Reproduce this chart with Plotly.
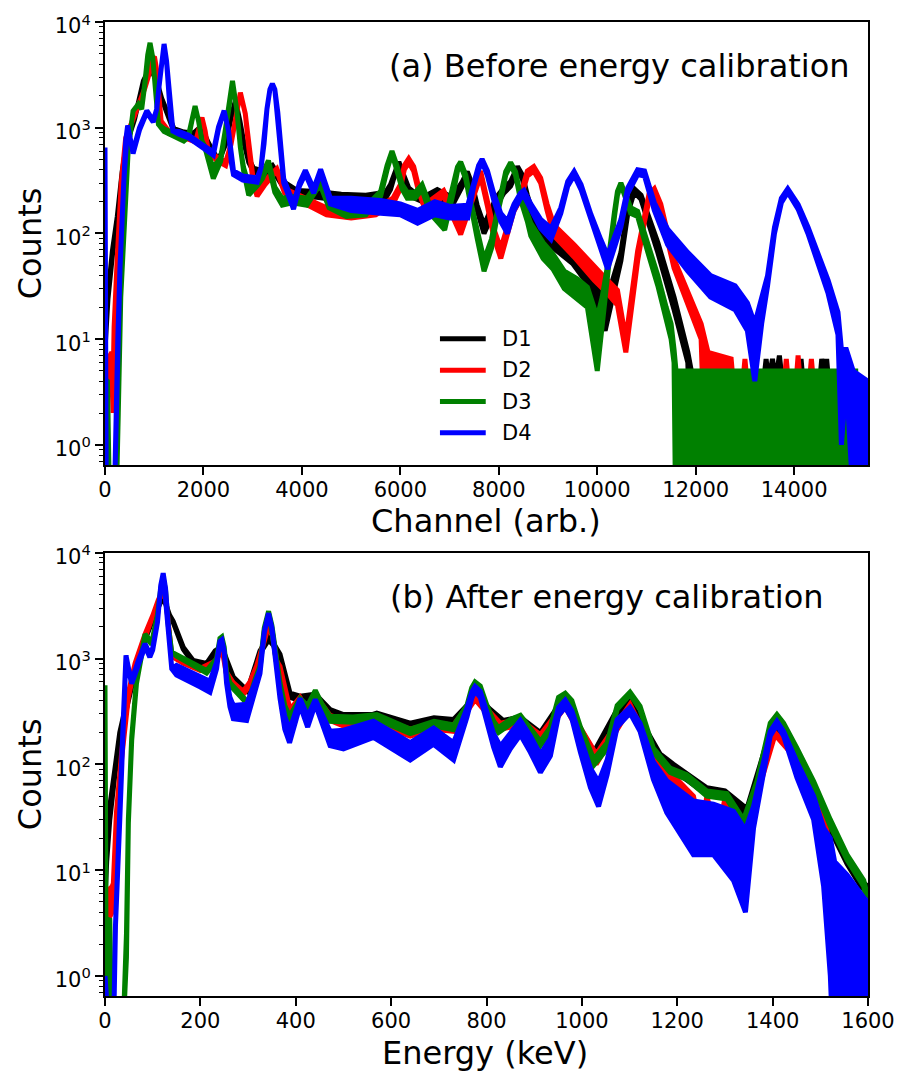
import plotly.graph_objects as go

# ---------------- (a) channel spectra: channel, lower / upper envelope of the noisy trace
ch_d1 = [0, 60, 150, 250, 350, 450, 600, 780, 915, 1050,
         1150, 1255, 1400, 1600, 1800, 1950, 2100, 2300, 2450, 2580,
         2650, 2740, 2815, 2920, 3015, 3200, 3400, 3600, 3900, 4300,
         4800, 5300, 5700, 5800, 5860, 5970, 6070, 6170, 6300, 6500,
         6750, 7050, 7260, 7360, 7460, 7560, 7700, 7950, 8100, 8240,
         8380, 8480, 8580, 8710, 8850, 9000, 9500, 9900, 10160, 10480,
         10620, 10750, 10890, 11020, 11230, 11560, 11840, 11950, 13380, 13430,
         13480, 13560, 13620, 13700, 13760, 14100, 14140, 14180, 14520, 14560,
         14620, 14660, 14700, 14850, 14900]
lo_d1 = [8, 24, 62, 135, 370, 730, 1200, 2770, 3700, 2770,
         1900, 1400, 920, 850, 830, 970, 680, 465, 700, 1360,
         1800, 1160, 750, 470, 385, 350, 400, 285, 225, 220,
         205, 200, 215, 260, 325, 440, 325, 245, 215, 195,
         222, 182, 280, 355, 260, 165, 100, 182, 240, 280,
         395, 325, 210, 125, 85, 80, 52, 29, 12, 55,
         155, 245, 210, 135, 66, 19, 6, 0.1, 0.1, 0.1,
         0.1, 0.1, 0.1, 0.1, 0.1, 0.1, 0.1, 0.1, 0.1, 0.1,
         0.1, 0.1, 0.1, 0.1, 0.1]
hi_d1 = [8, 26, 68, 145, 390, 770, 1200, 2770, 3700, 2770,
         1900, 1400, 980, 910, 890, 1030, 720, 495, 700, 1360,
         1800, 1160, 750, 510, 415, 390, 440, 315, 255, 250,
         235, 230, 245, 290, 355, 475, 355, 270, 240, 225,
         260, 220, 310, 385, 290, 185, 120, 220, 270, 310,
         430, 355, 230, 145, 100, 100, 70, 42, 21, 66,
         175, 265, 230, 150, 82, 25, 7.5, 4, 4, 6.5,
         4, 6.5, 4, 7, 4, 4, 6.5, 4, 4, 6.5,
         4, 6.5, 4, 4, 0.1]

ch_d2 = [40, 55, 100, 140, 165, 185, 250, 330, 420, 600,
         814, 915, 983, 1005, 1050, 1085, 1140, 1300, 1600, 1850,
         1900, 1970, 2035, 2100, 2300, 2450, 2560, 2650, 2750, 2850,
         2920, 3015, 3090, 3250, 3490, 3650, 3900, 4500, 5000, 5500,
         5850, 6000, 6080, 6170, 6270, 6375, 6510, 6880, 7225, 7490,
         7630, 7770, 7900, 8040, 8300, 8440, 8580, 8710, 8850, 8980,
         9120, 9530, 9940, 10210, 10410, 10580, 10820, 10960, 11050, 11160,
         11290, 11430, 11560, 11700, 12110, 12250, 12500, 12720, 12760, 12960,
         13000, 13040, 13800, 13840, 13880, 14040, 14080, 14120, 14310, 14350,
         14390, 14500]
lo_d2 = [0.3, 3, 5.5, 6, 2, 10, 55, 280, 780, 1300,
         2400, 3450, 4600, 4700, 3500, 2400, 1160, 880, 810, 730,
         900, 1250, 930, 570, 480, 440, 700, 1160, 2150, 1360,
         650, 295, 225, 290, 390, 240, 205, 150, 140, 150,
         190, 265, 400, 470, 390, 245, 165, 225, 98, 225,
         350, 180, 92, 58, 160, 210, 350, 390, 300, 165,
         95, 60, 36, 27, 21, 7.5, 55, 130, 205, 245,
         165, 85, 47, 32, 10, 0.1, 0.1, 0.1, 0.1, 0.1,
         0.1, 0.1, 0.1, 0.1, 0.1, 0.1, 0.1, 0.1, 0.1, 0.1,
         0.1, 0.1]
hi_d2 = [0.3, 6, 7, 7.5, 4, 13, 60, 300, 800, 1300,
         2400, 3450, 4600, 4700, 3500, 2400, 1160, 920, 850, 770,
         960, 1250, 930, 590, 520, 470, 700, 1160, 2150, 1360,
         650, 310, 255, 320, 410, 265, 235, 175, 165, 175,
         215, 290, 440, 510, 430, 270, 190, 255, 116, 255,
         390, 200, 110, 72, 180, 230, 390, 430, 335, 190,
         120, 78, 48, 36, 29, 10, 68, 155, 235, 265,
         190, 100, 57, 40, 14, 7.5, 7, 6.5, 4, 4,
         6.5, 4, 4, 6.5, 4, 4, 7, 4, 4, 6.5,
         4, 0.1]

ch_d3 = [0, 50, 90, 230, 270, 320, 370, 470, 570, 680,
         745, 814, 868, 915, 970, 1017, 1085, 1200, 1400, 1600,
         1700, 1765, 1830, 1900, 1970, 2050, 2200, 2350, 2420, 2510,
         2590, 2680, 2750, 2815, 2920, 3100, 3200, 3320, 3450, 3600,
         3800, 4100, 4300, 4390, 4550, 4900, 5300, 5600, 5730, 5830,
         5930, 6040, 6140, 6300, 6440, 6600, 6900, 7090, 7160, 7225,
         7330, 7430, 7560, 7700, 7850, 7970, 8040, 8140, 8240, 8340,
         8440, 8580, 8650, 8900, 9100, 9330, 9600, 9800, 10000, 10100,
         10210, 10350, 10410, 10480, 10550, 10680, 10820, 11020, 11230, 11400,
         11500, 11560, 11600, 15250, 15270]
lo_d3 = [2, 1.5, 0.3, 0.3, 2, 25, 86, 600, 1440, 1680,
         1500, 2770, 4900, 6350, 4600, 2400, 1080, 920, 820, 750,
         820, 1160, 1600, 1160, 750, 600, 330, 480, 800, 1440,
         2770, 1440, 650, 393, 230, 285, 330, 450, 245, 185,
         195, 185, 260, 275, 175, 145, 150, 225, 400, 570,
         400, 260, 215, 215, 260, 155, 108, 260, 390, 440,
         325, 180, 90, 44, 72, 150, 210, 355, 445, 355,
         210, 130, 95, 58, 46, 30, 24, 20, 5, 15,
         40, 145, 230, 290, 230, 155, 145, 68, 32, 16,
         10, 6, 0.1, 0.1, 0.1]
hi_d3 = [4.2, 4, 0.3, 0.3, 3, 30, 86, 600, 1440, 1680,
         1500, 2770, 4900, 6350, 4600, 2400, 1080, 980, 880, 800,
         860, 1160, 1600, 1160, 750, 640, 420, 520, 800, 1440,
         2770, 1440, 650, 420, 285, 320, 370, 490, 275, 215,
         225, 215, 290, 305, 205, 175, 180, 250, 440, 600,
         440, 290, 245, 245, 290, 185, 132, 290, 425, 475,
         355, 200, 106, 56, 88, 170, 230, 385, 470, 385,
         230, 155, 125, 82, 64, 44, 37, 31, 16, 25,
         50, 160, 250, 300, 250, 175, 162, 80, 40, 20,
         14, 8, 5, 5, 0.1]

ch_d4 = [0, 25, 190, 260, 305, 380, 420, 460, 510, 570,
         700, 850, 980, 1050, 1100, 1150, 1200, 1250, 1290, 1330,
         1380, 1500, 1700, 2000, 2200, 2306, 2420, 2510, 2570, 2610,
         2800, 3090, 3170, 3230, 3290, 3350, 3400, 3450, 3510, 3570,
         3630, 3830, 3950, 4070, 4240, 4380, 4480, 4580, 5000, 5600,
         6000, 6350, 6700, 7000, 7370, 7490, 7590, 7660, 7770, 7900,
         8040, 8175, 8310, 8440, 8510, 8650, 8850, 9060, 9260, 9400,
         9530, 9670, 9870, 10070, 10210, 10480, 10620, 10820, 10960, 11160,
         11430, 11840, 12300, 12800, 13050, 13200, 13340, 13460, 13600, 13740,
         13870, 14080, 14280, 14480, 14690, 14890, 14960, 15060, 15200, 15500]
lo_d4 = [650, 0.3, 0.3, 10, 48, 300, 750, 1050, 800, 570,
         950, 1400, 1130, 1500, 2500, 4300, 6200, 4300, 2500, 1300,
         930, 870, 800, 640, 550, 980, 1450, 930, 457, 360,
         320, 305, 420, 700, 1500, 2300, 2600, 2300, 1400, 650,
         300, 170, 280, 365, 240, 375, 270, 190, 165, 155,
         150, 125, 150, 140, 140, 280, 400, 475, 350, 205,
         130, 100, 165, 215, 225, 165, 112, 88, 155, 280,
         355, 260, 132, 72, 46, 115, 240, 360, 350, 165,
         78, 44, 25, 19, 12, 4, 14, 32, 100, 195,
         245, 170, 100, 55, 27, 11, 1, 4, 0.3, 0.1]
hi_d4 = [650, 0.3, 0.3, 10, 48, 300, 750, 1050, 800, 600,
         1000, 1450, 1170, 1500, 2500, 4300, 6200, 4300, 2500, 1300,
         930, 920, 850, 680, 590, 1020, 1450, 930, 470, 390,
         350, 335, 420, 700, 1500, 2300, 2600, 2300, 1400, 650,
         330, 190, 300, 395, 265, 405, 290, 215, 215, 205,
         190, 165, 200, 180, 185, 310, 440, 505, 390, 235,
         155, 130, 190, 240, 255, 190, 136, 112, 175, 310,
         385, 290, 152, 88, 62, 135, 270, 400, 390, 195,
         110, 66, 40, 32, 22, 14, 24, 40, 114, 215,
         265, 188, 115, 66, 36, 18, 8, 8, 5, 4]

# ---------------- (b) calibrated spectra: energy (keV), lower / upper envelope
ke_d1 = [0, 3.5, 10, 20, 31, 45, 59, 84, 105, 115,
         120, 127, 135, 143, 164, 185, 213, 231, 245, 256,
         269, 290, 300, 315, 325, 343, 355, 367, 388, 409,
         441, 472, 500, 560, 570, 640, 690, 731, 759, 776,
         808, 835, 870, 913, 951, 965, 997, 1025, 1074, 1101,
         1164, 1192, 1262, 1300, 1346, 1360, 1395, 1409, 1451, 1486,
         1521, 1556, 1585, 1600]
klo_d1 = [5, 12, 30, 75, 180, 340, 620, 1500, 2600, 3500,
          3700, 3300, 2600, 2200, 1230, 900, 840, 1100, 1250, 900,
          630, 500, 480, 800, 1120, 1500, 1300, 1040, 430, 400,
          420, 300, 265, 265, 275, 220, 245, 238, 330, 430,
          310, 240, 255, 180, 330, 370, 190, 110, 300, 370,
          110, 88, 52, 48, 30, 50, 190, 220, 125, 56,
          24, 11.5, 7, 6]
khi_d1 = [8, 15, 40, 85, 200, 380, 680, 1580, 2600, 3500,
          3700, 3300, 2600, 2250, 1280, 960, 900, 1180, 1300, 950,
          670, 540, 520, 850, 1180, 1580, 1350, 1100, 470, 440,
          460, 330, 295, 295, 305, 245, 275, 265, 360, 460,
          330, 260, 280, 200, 360, 400, 215, 130, 330, 395,
          125, 100, 60, 56, 38, 60, 205, 235, 135, 63,
          28, 13, 8, 7]

ke_d2 = [3, 7, 15, 17.5, 24, 35, 49, 63, 84, 101,
         112, 122, 128, 134, 140, 164, 200, 231, 245, 255,
         269, 290, 304, 318, 334, 343, 352, 360, 367, 388,
         409, 425, 441, 472, 500, 570, 640, 690, 731, 776,
         829, 871, 913, 965, 1030, 1101, 1150, 1185, 1234, 1250,
         1262, 1285, 1300, 1343, 1370, 1405, 1451, 1486, 1512, 1522,
         1530, 1540, 1548, 1555]
klo_d2 = [0.3, 3.4, 4, 7, 31, 115, 430, 840, 1620, 2600,
          3600, 4400, 3500, 1800, 1050, 900, 770, 900, 1250, 700,
          560, 460, 560, 800, 1500, 2050, 1600, 900, 800, 300,
          400, 290, 420, 260, 230, 240, 185, 215, 205, 410,
          215, 235, 165, 350, 100, 340, 110, 72, 42, 17,
          40, 15, 40, 22, 55, 190, 110, 48, 24, 7,
          2.5, 1.2, 0.1, 0.1]
khi_d2 = [0.3, 6.5, 7, 7.5, 35, 130, 470, 900, 1700, 2600,
          3600, 4400, 3500, 1800, 1050, 940, 810, 940, 1250, 740,
          590, 490, 600, 850, 1550, 2050, 1650, 950, 840, 330,
          430, 320, 450, 290, 265, 275, 215, 245, 235, 440,
          245, 265, 190, 385, 125, 370, 130, 84, 50, 22,
          50, 20, 48, 27, 70, 200, 125, 58, 30, 10,
          4, 2, 1, 0.1]

ke_d3 = [0, 2, 10, 14, 38, 45, 49, 56, 66, 84,
         98, 110, 117, 122, 127, 133, 140, 150, 213, 234,
         241, 245, 250, 255, 262, 290, 300, 315, 325, 334,
         343, 350, 359, 367, 377, 387, 409, 425, 441, 455,
         472, 520, 570, 640, 690, 731, 759, 769, 776, 787,
         801, 815, 825, 850, 871, 892, 913, 934, 951, 965,
         979, 997, 1025, 1053, 1074, 1101, 1122, 1150, 1185, 1220,
         1262, 1304, 1339, 1367, 1395, 1409, 1423, 1451, 1486, 1521,
         1556, 1591, 1600]
klo_d3 = [560, 0.3, 0.3, 0.3, 0.3, 1.5, 28, 170, 580, 1620,
          1360, 2600, 4600, 5800, 4400, 2000, 1150, 1050, 730, 950,
          1500, 1600, 1250, 700, 560, 410, 360, 600, 800, 1900,
          2800, 2000, 950, 560, 330, 255, 390, 330, 470, 340,
          255, 250, 265, 195, 230, 212, 330, 500, 560, 520,
          330, 230, 200, 240, 270, 200, 150, 200, 400, 440,
          370, 200, 98, 140, 330, 455, 330, 130, 84, 72,
          50, 47, 26, 63, 230, 285, 230, 130, 63, 26,
          12.5, 7, 4.5]
khi_d3 = [560, 3.2, 3.5, 0.3, 0.3, 2.5, 30, 180, 620, 1700,
          1420, 2600, 4600, 5800, 4400, 2000, 1150, 1090, 770, 1000,
          1550, 1600, 1280, 740, 590, 430, 385, 640, 850, 1950,
          2800, 2050, 1000, 590, 360, 285, 420, 360, 500, 370,
          285, 280, 295, 215, 255, 235, 360, 530, 600, 550,
          360, 255, 222, 265, 290, 220, 165, 225, 430, 470,
          400, 225, 112, 160, 360, 480, 355, 142, 92, 80,
          56, 53, 30, 69, 245, 295, 245, 142, 69, 30,
          14, 8, 5.5]

ke_d4 = [0, 8, 18, 22, 31, 38, 44, 50, 56, 70,
         84, 94, 100, 110, 117, 122, 127, 133, 140, 150,
         199, 220, 234, 241, 245, 250, 255, 262, 269, 297,
         315, 325, 334, 343, 350, 359, 367, 377, 387, 409,
         425, 441, 455, 472, 500, 563, 640, 689, 731, 759,
         769, 776, 787, 801, 815, 829, 850, 871, 892, 913,
         934, 951, 965, 979, 997, 1018, 1035, 1053, 1074, 1101,
         1122, 1150, 1178, 1234, 1276, 1318, 1343, 1360, 1381, 1395,
         1409, 1423, 1451, 1486, 1507, 1521, 1530, 1556, 1591, 1600]
klo_d4 = [1, 0.3, 0.3, 3, 28, 245, 1070, 750, 580, 880,
          1300, 1030, 1200, 2200, 4950, 6400, 4600, 1940, 800, 700,
          540, 480, 800, 1420, 1500, 1130, 580, 350, 270, 260,
          500, 720, 1750, 2670, 1900, 840, 420, 215, 160, 360,
          225, 370, 245, 150, 140, 180, 110, 155, 110, 280,
          420, 495, 430, 250, 145, 95, 140, 190, 130, 84,
          120, 290, 345, 270, 130, 60, 40, 80, 225, 305,
          205, 72, 35, 14, 14, 8, 4, 25, 85, 185,
          235, 185, 75, 30, 7, 1, 0.1, 0.1, 0.1, 0.1]
khi_d4 = [1, 0.3, 0.3, 3, 30, 260, 1070, 780, 620, 960,
          1380, 1110, 1250, 2200, 4950, 6400, 4600, 1940, 800, 860,
          680, 610, 920, 1450, 1500, 1170, 630, 430, 360, 370,
          600, 790, 1800, 2670, 1950, 910, 480, 285, 210, 420,
          285, 410, 305, 205, 210, 255, 160, 220, 160, 340,
          480, 545, 490, 310, 195, 148, 200, 260, 185, 124,
          175, 345, 405, 320, 180, 92, 68, 110, 265, 345,
          245, 105, 70, 45, 42, 36, 24, 40, 105, 205,
          255, 205, 105, 50, 25, 20, 12, 9, 5.5, 5]

names = ["D1", "D2", "D3", "D4"]
colors = ["#000000", "#ff0000", "#008000", "#0000ff"]
x_ticks_a = [0, 2000, 4000, 6000, 8000, 10000, 12000, 14000]
x_labels_a = ["0", "2000", "4000", "6000", "8000", "10000", "12000", "14000"]
x_ticks_b = [0, 200, 400, 600, 800, 1000, 1200, 1400, 1600]
x_labels_b = ["0", "200", "400", "600", "800", "1000", "1200", "1400", "1600"]
y_ticks = [1, 10, 100, 1000, 10000]
y_labels = ["10<sup>0</sup>", "10<sup>1</sup>", "10<sup>2</sup>", "10<sup>3</sup>", "10<sup>4</sup>"]

panel_a = [(ch_d1, lo_d1, hi_d1), (ch_d2, lo_d2, hi_d2), (ch_d3, lo_d3, hi_d3), (ch_d4, lo_d4, hi_d4)]
panel_b = [(ke_d1, klo_d1, khi_d1), (ke_d2, klo_d2, khi_d2), (ke_d3, klo_d3, khi_d3), (ke_d4, klo_d4, khi_d4)]

fig = go.Figure()


def add_band(x, lo, hi, color, name, xa, ya):
    xs = list(x) + list(x)[::-1]
    ys = list(hi) + list(lo)[::-1]
    fig.add_trace(go.Scatter(x=xs, y=ys, mode="lines", fill="toself", fillcolor=color,
                             line=dict(color=color, width=5), name=name,
                             xaxis=xa, yaxis=ya, showlegend=False, hoverinfo="skip"))


for (x, lo, hi), c, n in zip(panel_a, colors, names):
    add_band(x, lo, hi, c, n, "x", "y")
for (x, lo, hi), c, n in zip(panel_b, colors, names):
    add_band(x, lo, hi, c, n, "x2", "y2")

minor_vals = [0.7, 0.8, 0.9] + [k * 10 ** d for d in range(4) for k in range(2, 10)]

common = dict(showline=True, linecolor="black", linewidth=2, mirror=True, ticks="outside",
              ticklen=8, tickwidth=1.5, tickcolor="black", showgrid=False, zeroline=False,
              automargin=False,
              tickfont=dict(size=21, color="black", family="DejaVu Sans"))
xcommon = dict(common, ticklabelstandoff=-3)
ycommon = dict(common, type="log", range=[-0.19, 4], tickmode="array", tickvals=y_ticks,
               ticktext=y_labels, ticklabelshift=4,
               minor=dict(tickmode="array", tickvals=minor_vals, ticks="outside", ticklen=4.5,
                          tickwidth=1.2, tickcolor="black", showgrid=False))

fig.update_layout(
    width=898, height=1073,
    margin=dict(l=105, r=30, t=22, b=77),
    paper_bgcolor="white", plot_bgcolor="white",
    showlegend=False,
    font=dict(family="DejaVu Sans", color="black"),
    xaxis=dict(xcommon, domain=[0, 1], anchor="y", range=[0, 15500], tickmode="array",
               tickvals=x_ticks_a, ticktext=x_labels_a),
    yaxis=dict(ycommon, domain=[0.5452, 1], anchor="x"),
    xaxis2=dict(xcommon, domain=[0, 1], anchor="y2", range=[0, 1600], tickmode="array",
                tickvals=x_ticks_b, ticktext=x_labels_b),
    yaxis2=dict(ycommon, domain=[0, 0.4551], anchor="x2"),
)

ann = [
    dict(text="(a) Before energy calibration", x=0.979, y=0.9548, xanchor="right", yanchor="middle", font=dict(size=32)),
    dict(text="(b) After energy calibration", x=0.945, y=0.4097, xanchor="right", yanchor="middle", font=dict(size=32)),
    dict(text="Counts", x=-0.098, y=0.773, textangle=-90, xanchor="center", yanchor="middle", font=dict(size=32)),
    dict(text="Counts", x=-0.098, y=0.228, textangle=-90, xanchor="center", yanchor="middle", font=dict(size=32)),
    dict(text="Channel (arb.)", x=0.4993, y=0.4872, xanchor="center", yanchor="middle", font=dict(size=32)),
    dict(text="Energy (keV)", x=0.498, y=-0.0585, xanchor="center", yanchor="middle", font=dict(size=32)),
]
legend_rows = [0.6747, 0.6425, 0.6103, 0.5782]
for n, c, yy in zip(names, colors, legend_rows):
    fig.add_shape(type="line", xref="paper", yref="paper", x0=0.439, x1=0.499, y0=yy, y1=yy,
                  line=dict(color=c, width=5))
    ann.append(dict(text=n, x=0.518, y=yy, xanchor="left", yanchor="middle", font=dict(size=21)))
for a in ann:
    a.update(xref="paper", yref="paper", showarrow=False)
    a["font"].update(family="DejaVu Sans", color="black")
fig.update_layout(annotations=ann)

fig.write_html("out.html")
